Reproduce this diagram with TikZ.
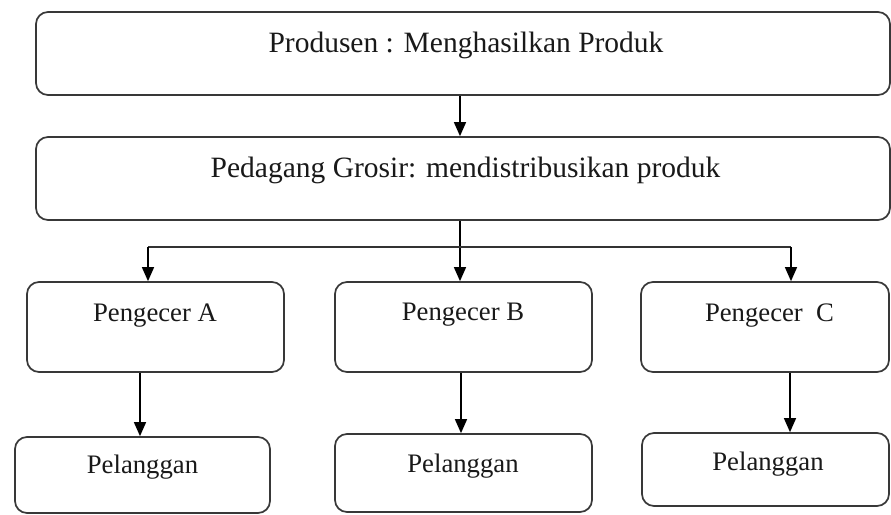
\documentclass[tikz,border=0pt]{standalone}
\usepackage{fontspec}
\setmainfont{Liberation Serif}
\usetikzlibrary{arrows.meta}
\begin{document}
\begin{tikzpicture}[x=1pt,y=-1pt,
  box/.style={draw=black!78, line width=1.7pt, rounded corners=12pt, inner sep=0pt, fill=white},
  bigtext/.style={anchor=base, inner sep=0pt, font=\fontsize{29.5}{34}\selectfont, text=black!90},
  smalltext/.style={anchor=base, inner sep=0pt, font=\fontsize{26.7}{31}\selectfont, text=black!90},
  arr/.style={draw=black, line width=1.4pt, -{Triangle[length=14pt,width=12pt]}},
  ln/.style={draw=black!80, line width=1.4pt}]
\useasboundingbox (0,0) rectangle (891,514);
% boxes
\node[box, minimum width=854pt, minimum height=83pt] (p) at (463,53.5) {};
\node[box, minimum width=854pt, minimum height=83pt] (g) at (463,178.5) {};
\node[box, minimum width=257pt, minimum height=90pt] (a) at (155.5,327) {};
\node[box, minimum width=257pt, minimum height=90pt] (b) at (463.5,327) {};
\node[box, minimum width=248pt, minimum height=90pt] (c) at (765,327) {};
\node[box, minimum width=255pt, minimum height=76pt] (la) at (142.5,475) {};
\node[box, minimum width=257pt, minimum height=78pt] (lb) at (463.5,473) {};
\node[box, minimum width=247pt, minimum height=73pt] (lc) at (765.5,469.5) {};
% texts
\node[bigtext] (pt) at (466,52) {Produsen : Menghasilkan Produk};
\node[bigtext] (gt) at (465.5,177) {Pedagang Grosir: mendistribusikan produk};
\node[smalltext] (at) at (155,321) {Pengecer A};
\node[smalltext] (bt) at (463,320) {Pengecer B};
\node[smalltext] (ct) at (769.5,321) {Pengecer~~C};
\node[smalltext] (lat) at (142.5,473) {Pelanggan};
\node[smalltext] (lbt) at (463,472) {Pelanggan};
\node[smalltext] (lct) at (768,470) {Pelanggan};
% connectors
\coordinate (j) at (460,247);
\coordinate (jl) at (148,247);
\coordinate (jr) at (791,247);
\draw[arr] (p.south -| j) -- (g.north -| j);
\draw[arr] (g.south -| j) -- (b.north -| j);
\draw[ln] (jl) -- (jr);
\draw[arr] (jl) -- (a.north -| jl);
\draw[arr] (jr) -- (c.north -| jr);
\draw[arr] (a.south -| 140,0) -- (la.north -| 140,0);
\draw[arr] (b.south -| 461,0) -- (lb.north -| 461,0);
\draw[arr] (c.south -| 790,0) -- (lc.north -| 790,0);
\end{tikzpicture}
\end{document}
